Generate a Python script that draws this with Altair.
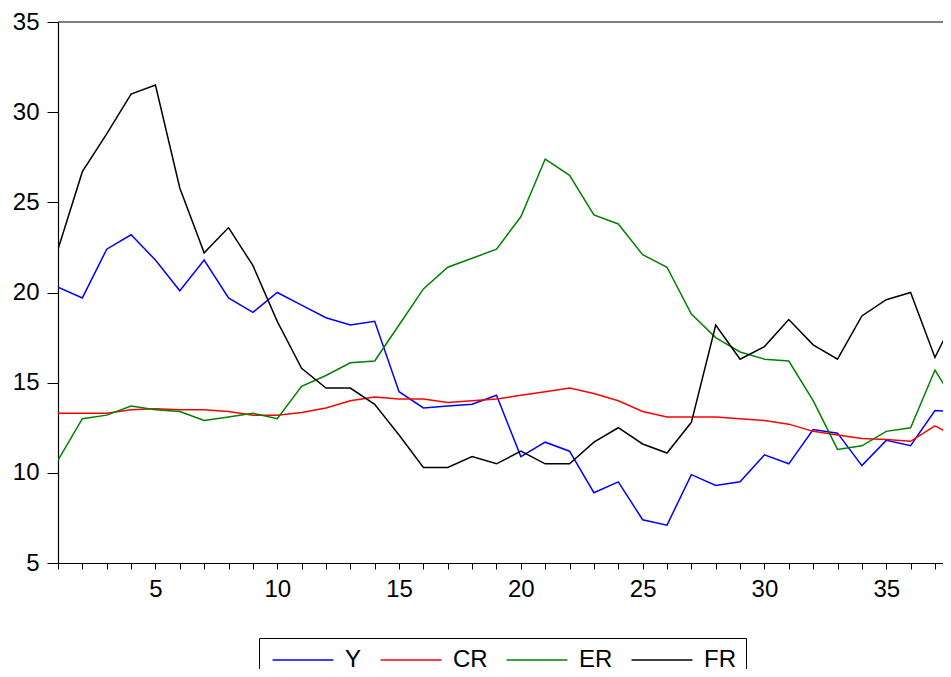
import altair as alt
import pandas as pd

t = list(range(1, 39))
Y = [20.3, 19.7, 22.4, 23.2, 21.8, 20.1, 21.8, 19.7, 18.9, 20.0, 19.3, 18.6, 18.2, 18.4,
     14.5, 13.6, 13.7, 13.8, 14.3, 10.9, 11.7, 11.2, 8.9, 9.5, 7.4, 7.1, 9.9, 9.3, 9.5,
     11.0, 10.5, 12.4, 12.2, 10.4, 11.8, 11.5, 13.45, 13.4]
CR = [13.3, 13.3, 13.3, 13.5, 13.55, 13.5, 13.5, 13.4, 13.2, 13.2, 13.35, 13.6, 14.0, 14.2,
      14.1, 14.1, 13.9, 14.0, 14.1, 14.3, 14.5, 14.7, 14.4, 14.0, 13.4, 13.1, 13.1, 13.1,
      13.0, 12.9, 12.7, 12.3, 12.1, 11.9, 11.85, 11.75, 12.6, 11.9]
ER = [10.7, 13.0, 13.2, 13.7, 13.5, 13.4, 12.9, 13.1, 13.3, 13.0, 14.8, 15.4, 16.1, 16.2,
      18.2, 20.2, 21.4, 21.9, 22.4, 24.2, 27.4, 26.5, 24.3, 23.8, 22.1, 21.4, 18.8, 17.5,
      16.7, 16.3, 16.2, 14.0, 11.3, 11.5, 12.3, 12.5, 15.7, 13.5]
FR = [22.4, 26.7, 28.8, 31.0, 31.5, 25.8, 22.2, 23.6, 21.5, 18.4, 15.8, 14.7, 14.7, 13.8,
      12.1, 10.3, 10.3, 10.9, 10.5, 11.2, 10.5, 10.5, 11.7, 12.5, 11.6, 11.1, 12.8, 18.2,
      16.3, 17.0, 18.5, 17.1, 16.3, 18.7, 19.6, 20.0, 16.4, 19.1]

series_names = ["Y", "CR", "ER", "FR"]
colors = ["#0000FF", "#FF0000", "#008000", "#000000"]
y_ticks = [5, 10, 15, 20, 25, 30, 35]
x_domain = [1, 37.33]

rows = []
for k, (name, vals) in enumerate(zip(series_names, [Y, CR, ER, FR])):
    for ti, v in zip(t, vals):
        rows.append({"t": ti, "v": v, "s": name, "k": k})
df = pd.DataFrame(rows)

FONT = "Liberation Sans"
W, H = 885, 541

lines = alt.Chart(df).mark_line(strokeWidth=1.5, clip=True).encode(
    x=alt.X("t:Q",
            scale=alt.Scale(domain=x_domain, nice=False, zero=False),
            axis=alt.Axis(values=t, title=None, grid=False, tickSize=6,
                          labelPadding=8, labelFontSize=24,
                          labelExpr="datum.value % 5 == 0 ? datum.label : ''",
                          labelFlush=False, labelOverlap=False)),
    y=alt.Y("v:Q",
            scale=alt.Scale(domain=[5, 35], nice=False, zero=False),
            axis=alt.Axis(values=y_ticks, title=None, grid=False, tickSize=11,
                          labelPadding=8, labelFontSize=24)),
    color=alt.Color("s:N",
                    scale=alt.Scale(domain=series_names, range=colors),
                    legend=alt.Legend(orient="none", legendX=201, legendY=616,
                                      direction="horizontal", title=None,
                                      symbolType="M-6,0H6", symbolSize=103,
                                      symbolOffset=22,
                                      symbolStrokeWidth=1.5, labelFontSize=24,
                                      labelFont=FONT, labelColor="#000000",
                                      labelOffset=30, columnPadding=15,
                                      padding=10, strokeColor="#000000")),
    order=alt.Order("t:Q"),
    detail="k:N",
)

top_border = alt.Chart(pd.DataFrame({"a": [0]})).mark_rule(
    color="#000000", strokeWidth=1.2
).encode(x=alt.value(0), x2=alt.value(W), y=alt.value(0))

chart = alt.layer(lines, top_border).properties(
    width=W,
    height=H,
    autosize=alt.AutoSizeParams(type="none"),
    padding={"left": 50, "top": 14, "right": 0, "bottom": 106},
).configure_axis(
    labelFont=FONT, labelColor="#000000", domainColor="#000000",
    tickColor="#000000", domainWidth=1.2, tickWidth=1
).configure_view(
    stroke=None
)

chart.save("out.html", embed_options={"renderer": "svg", "actions": False})
